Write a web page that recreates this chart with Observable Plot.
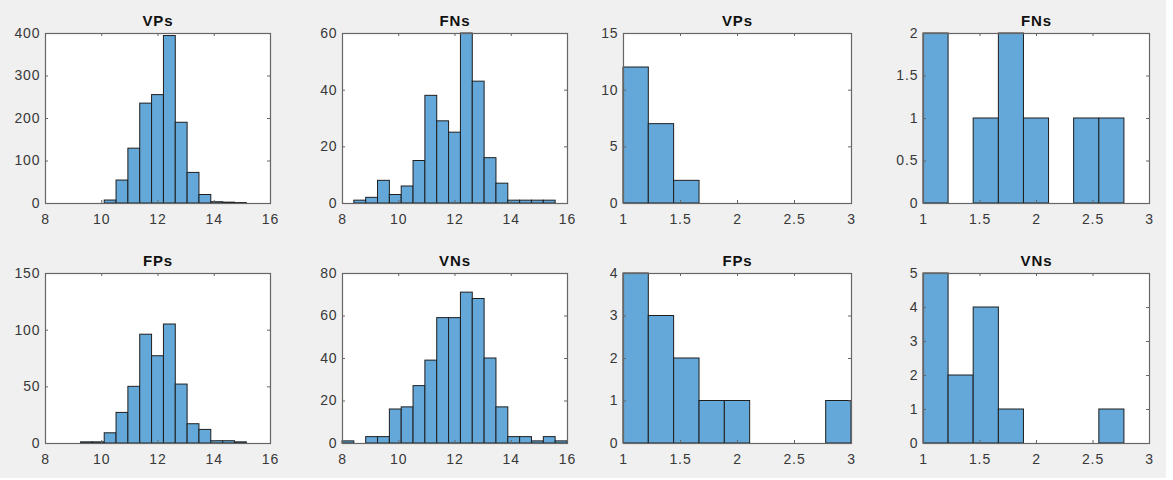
<!DOCTYPE html>
<html>
<head>
<meta charset="utf-8">
<script src="https://cdn.jsdelivr.net/npm/d3@7"></script>
<script src="https://cdn.jsdelivr.net/npm/@observablehq/plot@0.6"></script>
<style>
  html, body { margin: 0; padding: 0; background: #ffffff; }
  #fig { position: relative; width: 1166px; height: 478px; background: #f0f0f0; overflow: hidden; }
  .panel { position: absolute; }
  .panel text { letter-spacing: 0.9px; }
</style>
</head>
<body>
<div id="fig"></div>
<script>
// ---------- DATA ----------
// Bin edges (left column pair: range 8–16, right column pair: range 1–3)
const wideEdges = [8, 8.421, 8.842, 9.263, 9.684, 10.105, 10.526, 10.947, 11.368, 11.789, 12.211,
                   12.632, 13.053, 13.474, 13.895, 14.316, 14.737, 15.158, 15.579, 16];
const narrowEdges = [1, 1.222, 1.444, 1.667, 1.889, 2.111, 2.333, 2.556, 2.778, 3];

// Counts per bin (null = outside the data range, no bar drawn)
const vpsWide = [null, null, null, null, null, 7, 54, 129, 235, 255, 394, 190, 72, 20, 3, 2, 1, null, null];
const fnsWide = [null, 1, 2, 8, 3, 6, 15, 38, 29, 25, 60, 43, 16, 7, 1, 1, 1, 1, null];
const fpsWide = [null, null, null, 1, 1, 9, 27, 50, 96, 77, 105, 52, 17, 12, 2, 2, 1, null, null];
const vnsWide = [1, 0, 3, 3, 16, 17, 27, 39, 59, 59, 71, 68, 40, 17, 3, 3, 1, 3, 1];

const vpsNarrow = [12, 7, 2, null, null, null, null, null, null];
const fnsNarrow = [2, 0, 1, 2, 1, 0, 1, 1, null];
const fpsNarrow = [4, 3, 2, 1, 1, 0, 0, 0, 1];
const vnsNarrow = [5, 2, 4, 1, 0, 0, 0, 1, null];

// Titles
const titles = ["VPs", "FNs", "VPs", "FNs", "FPs", "VNs", "FPs", "VNs"];

// Tick labels
const wideXTicks = [8, 10, 12, 14, 16];
const narrowXTicks = [1, 1.5, 2, 2.5, 3];
const yTicksVpsWide = [0, 100, 200, 300, 400];
const yTicksFnsWide = [0, 20, 40, 60];
const yTicksVpsNarrow = [0, 5, 10, 15];
const yTicksFnsNarrow = [0, 0.5, 1, 1.5, 2];
const yTicksFpsWide = [0, 50, 100, 150];
const yTicksVnsWide = [0, 20, 40, 60, 80];
const yTicksFpsNarrow = [0, 1, 2, 3, 4];
const yTicksVnsNarrow = [0, 1, 2, 3, 4, 5];

// ---------- LAYOUT ----------
const cols = [[45, 270], [342, 567], [623, 851], [923, 1149]];
const rows = [[32.5, 202.5], [272.5, 442.5]];

const panels = [
  {title: titles[0], edges: wideEdges, counts: vpsWide, xTicks: wideXTicks, yTicks: yTicksVpsWide, col: 0, row: 0},
  {title: titles[1], edges: wideEdges, counts: fnsWide, xTicks: wideXTicks, yTicks: yTicksFnsWide, col: 1, row: 0},
  {title: titles[2], edges: narrowEdges, counts: vpsNarrow, xTicks: narrowXTicks, yTicks: yTicksVpsNarrow, col: 2, row: 0},
  {title: titles[3], edges: narrowEdges, counts: fnsNarrow, xTicks: narrowXTicks, yTicks: yTicksFnsNarrow, col: 3, row: 0},
  {title: titles[4], edges: wideEdges, counts: fpsWide, xTicks: wideXTicks, yTicks: yTicksFpsWide, col: 0, row: 1},
  {title: titles[5], edges: wideEdges, counts: vnsWide, xTicks: wideXTicks, yTicks: yTicksVnsWide, col: 1, row: 1},
  {title: titles[6], edges: narrowEdges, counts: fpsNarrow, xTicks: narrowXTicks, yTicks: yTicksFpsNarrow, col: 2, row: 1},
  {title: titles[7], edges: narrowEdges, counts: vnsNarrow, xTicks: narrowXTicks, yTicks: yTicksVnsNarrow, col: 3, row: 1}
];

const fig = document.getElementById("fig");
const mL = 45, mR = 6, mT = 34, mB = 36;
const FONT = "'Liberation Sans', Arial, Helvetica, sans-serif";
const TICKLEN = 3;
const AXIS = "#666666";

for (const p of panels) {
  const [x0, x1] = cols[p.col];
  const [y0, y1] = rows[p.row];
  const W = x1 - x0, H = y1 - y0;
  const bins = p.counts
    .map((c, i) => ({x1: p.edges[i], x2: p.edges[i + 1], count: c}))
    .filter(d => d.count !== null);
  const xDomain = [p.xTicks[0], p.xTicks[p.xTicks.length - 1]];
  const yDomain = [p.yTicks[0], p.yTicks[p.yTicks.length - 1]];

  const chart = Plot.plot({
    width: W + mL + mR,
    height: H + mT + mB,
    marginLeft: mL, marginRight: mR, marginTop: mT, marginBottom: mB,
    style: {background: "transparent", fontFamily: FONT, color: "#383838", overflow: "visible"},
    x: {domain: xDomain},
    y: {domain: yDomain},
    marks: [
      Plot.frame({fill: "#ffffff", stroke: "none"}),
      Plot.rect(bins, {x1: "x1", x2: "x2", y1: 0, y2: "count", fill: "#63a8d8", stroke: "#1e1e1e", strokeWidth: 1}),
      Plot.frame({stroke: AXIS, strokeWidth: 1.2}),
      // inward ticks, bottom & top
      Plot.tickX(p.xTicks, {x: d => d, insetTop: H - TICKLEN, stroke: AXIS}),
      Plot.tickX(p.xTicks, {x: d => d, insetBottom: H - TICKLEN, stroke: AXIS}),
      // inward ticks, left & right
      Plot.tickY(p.yTicks, {y: d => d, insetRight: W - TICKLEN, stroke: AXIS}),
      Plot.tickY(p.yTicks, {y: d => d, insetLeft: W - TICKLEN, stroke: AXIS}),
      Plot.axisX({ticks: p.xTicks, tickSize: 0, tickPadding: 11, fontSize: 14, tickFormat: d => String(d), label: null}),
      Plot.axisY({ticks: p.yTicks, tickSize: 0, tickPadding: 5, fontSize: 14, tickFormat: d => String(d), label: null}),
      Plot.text([p.title], {frameAnchor: "top", text: d => d, dy: -8, lineAnchor: "bottom",
        fontWeight: "bold", fontSize: 15, fill: "#111"})
    ]
  });
  chart.classList.add("panel");
  chart.style.left = (x0 - mL) + "px";
  chart.style.top = (y0 - mT) + "px";
  fig.appendChild(chart);
}
</script>
</body>
</html>
